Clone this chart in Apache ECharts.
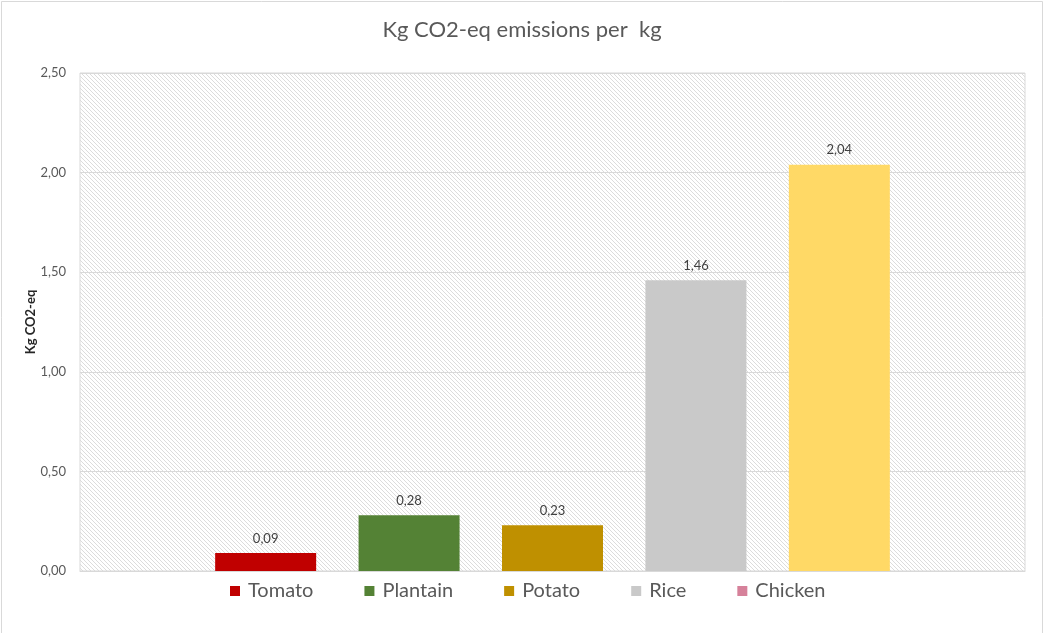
<!DOCTYPE html>
<html>
<head>
<meta charset="utf-8">
<script src="https://cdn.jsdelivr.net/npm/echarts@6/dist/echarts.min.js"></script>
<style>
  html, body { margin: 0; padding: 0; background: #ffffff; }
  #chart { width: 1044px; height: 633px; }
</style>
</head>
<body>
<div id="chart"></div>
<script>
// Emissions per food item (kg CO2-eq per kg)
const seriesNames = ['Tomato', 'Plantain', 'Potato', 'Rice', 'Chicken'];
const values = [0.09, 0.28, 0.23, 1.46, 2.04];
const legendColors = ['#C00000', '#548235', '#BF9000', '#C9C9C9', '#D6819A'];
const barColors = ['#C00000', '#548235', '#BF9000', '#C9C9C9', '#FFD966'];
const yTicks = { min: 0, max: 2.5, interval: 0.5 };

const FONT = 'Lato, "Open Sans", sans-serif';
const fmt = v => Number(v).toFixed(2).replace('.', ',');

// Diagonal hatch tile for the plot area background
function hatchTile() {
  const s = 4;
  const c = document.createElement('canvas');
  c.width = s; c.height = s;
  const g = c.getContext('2d');
  g.fillStyle = '#ffffff';
  g.fillRect(0, 0, s, s);
  g.fillStyle = '#dcdcdc';
  for (let i = 0; i < s; i++) {
    g.fillRect(i, i, 1, 1);
  }
  return c;
}

const chart = echarts.init(document.getElementById('chart'), null, { renderer: 'canvas' });

const series = seriesNames.map((name, i) => ({
  name: name,
  type: 'bar',
  barWidth: 101,
  barGap: '42%',
  itemStyle: { color: legendColors[i] },
  data: [{ value: values[i], itemStyle: { color: barColors[i] } }],
  label: {
    show: true,
    position: 'top',
    distance: 8,
    color: '#404040',
    fontSize: 13,
    fontFamily: FONT,
    formatter: p => fmt(p.value)
  }
}));

chart.setOption({
  animation: false,
  backgroundColor: '#ffffff',
  title: {
    text: 'Kg CO2-eq emissions per  kg',
    left: 'center',
    top: 14,
    textStyle: { color: '#595959', fontSize: 22, fontWeight: 'normal', fontFamily: FONT }
  },
  graphic: [{
    type: 'rect',
    shape: { x: 1.5, y: 1.5, width: 1041, height: 640 },
    style: { fill: 'none', stroke: '#d9d9d9', lineWidth: 1 },
    silent: true
  }],
  legend: {
    left: 225,
    top: 576,
    itemWidth: 10,
    itemHeight: 10,
    itemGap: 51,
    icon: 'rect',
    textStyle: { color: '#595959', fontSize: 20, fontFamily: FONT, padding: [0, 0, 0, 3] },
    data: seriesNames
  },
  grid: {
    left: 80,
    right: 19,
    top: 73,
    bottom: 62,
    show: true,
    borderColor: '#d9d9d9',
    borderWidth: 1,
    backgroundColor: { image: hatchTile(), repeat: 'repeat' }
  },
  xAxis: {
    type: 'category',
    data: [''],
    axisLine: { show: true, lineStyle: { color: '#d9d9d9' } },
    axisTick: { show: false },
    axisLabel: { show: false }
  },
  yAxis: {
    type: 'value',
    min: yTicks.min,
    max: yTicks.max,
    interval: yTicks.interval,
    name: 'Kg CO2-eq',
    nameLocation: 'middle',
    nameGap: 43,
    nameMoveOverlap: false,
    nameRotate: 90,
    nameTextStyle: { color: '#262626', fontSize: 13, fontWeight: 'bold', fontFamily: FONT },
    axisLine: { show: false },
    axisTick: { show: false },
    splitLine: { lineStyle: { color: '#d9d9d9' } },
    axisLabel: { color: '#595959', fontSize: 13, fontFamily: FONT, margin: 14, formatter: v => fmt(v) }
  },
  series: series
});
</script>
</body>
</html>
